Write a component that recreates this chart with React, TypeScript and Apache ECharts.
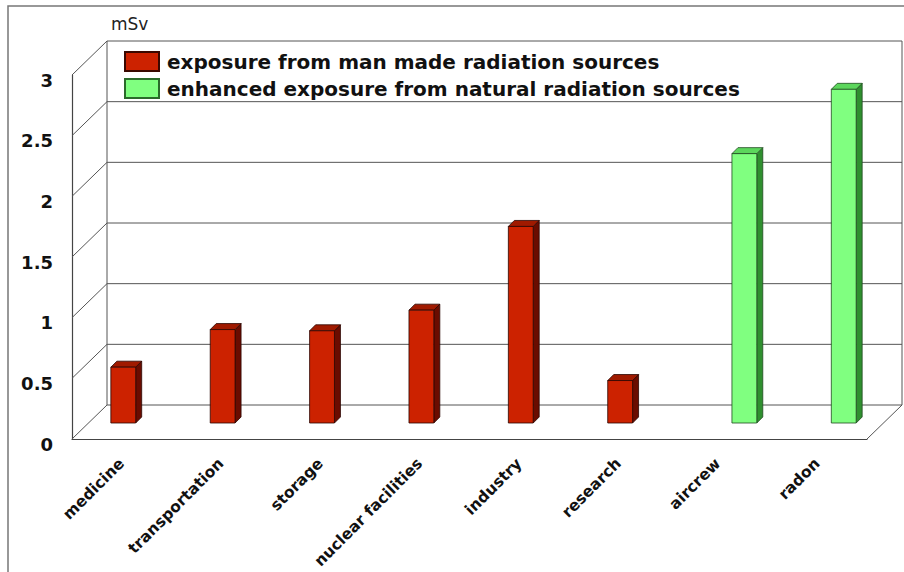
import React, { useEffect, useRef } from "react";
import * as echarts from "echarts";

const categories = [
  "medicine",
  "transportation",
  "storage",
  "nuclear facilities",
  "industry",
  "research",
  "aircrew",
  "radon",
];
const manMade: (number | null)[] = [0.46, 0.77, 0.76, 0.93, 1.62, 0.35, null, null];
const natural: (number | null)[] = [null, null, null, null, null, null, 2.22, 2.75];
const yTicks = [0, 0.5, 1, 1.5, 2, 2.5, 3];
const seriesNames = [
  "exposure from man made radiation sources",
  "enhanced exposure from natural radiation sources",
];
const unitLabel = "mSv";

// 3D look (pixel offsets)
const WALL_DX = 35;
const WALL_DY = 34;
const BAR_DX = 14;
const BAR_DY = 16;
const BAR_DEPTH = 6;

const FONT = "'DejaVu Sans', 'Liberation Sans', Arial, sans-serif";

function barRenderer(offsetFrac: number, front: string, top: string, side: string, edge: string) {
  return (params: any, api: any) => {
    const idx = api.value(0);
    const v = api.value(1);
    if (v == null || isNaN(v)) return null;
    const pTop = api.coord([idx, v]);
    const pBase = api.coord([idx, 0]);
    const band = api.size([1, 0])[0];
    const w = band * 0.25;
    const cx = pTop[0] + offsetFrac * band + BAR_DX;
    const yT = pTop[1] - BAR_DY;
    const yB = pBase[1] - BAR_DY;
    const xl = cx - w / 2;
    const xr = cx + w / 2;
    const d = BAR_DEPTH;
    const lineStyle = { stroke: edge, lineWidth: 0.8 };
    return {
      type: "group",
      children: [
        {
          type: "polygon",
          shape: { points: [[xr, yB], [xr, yT], [xr + d, yT - d], [xr + d, yB - d]] },
          style: { fill: side, ...lineStyle },
        },
        {
          type: "polygon",
          shape: { points: [[xl, yT], [xr, yT], [xr + d, yT - d], [xl + d, yT - d]] },
          style: { fill: top, ...lineStyle },
        },
        {
          type: "rect",
          shape: { x: xl, y: yT, width: w, height: yB - yT },
          style: { fill: front, ...lineStyle },
        },
      ],
    };
  };
}

export default function App() {
  const ref = useRef<HTMLDivElement>(null);

  useEffect(() => {
    document.body.style.margin = "0";
    if (!ref.current) return;
    const chart = echarts.init(ref.current, null, { renderer: "svg" });
    const yMin = yTicks[0];
    const yMax = yTicks[yTicks.length - 1];

    const wallColor = "#555";

    const option: any = {
      animation: false,
      backgroundColor: "#fff",
      title: {
        text: unitLabel,
        left: 106,
        top: 10,
        textStyle: { fontFamily: FONT, fontSize: 17, fontWeight: "normal", color: "#222" },
      },
      legend: {
        orient: "vertical",
        left: 119,
        top: 46,
        itemWidth: 34,
        itemHeight: 19,
        itemGap: 6,
        icon: "rect",
        data: seriesNames,
        selectedMode: false,
        textStyle: {
          fontFamily: FONT,
          fontSize: 20,
          fontWeight: "bold",
          color: "#111",
          padding: [0, 0, 0, 3],
        },
      },
      graphic: [
        {
          type: "rect",
          shape: { x: 8, y: 6, width: 1200, height: 1000 },
          style: { fill: "none", stroke: "#777", lineWidth: 1.5 },
          silent: true,
          z: -10,
        },
      ],
      grid: { left: 72, top: 75, width: 795, height: 364 },
      xAxis: {
        type: "category",
        data: categories,
        boundaryGap: true,
        axisLine: { show: true, lineStyle: { color: "#444", width: 1.2 } },
        axisTick: { show: false },
        splitLine: { show: false },
        axisLabel: {
          rotate: 45,
          interval: 0,
          margin: 22,
          fontFamily: FONT,
          fontSize: 15.5,
          fontWeight: "bold",
          color: "#111",
        },
      },
      yAxis: {
        type: "value",
        min: yMin,
        max: yMax,
        interval: 0.5,
        axisLine: { show: true, lineStyle: { color: "#444", width: 1.2 } },
        axisTick: { show: false },
        splitLine: { show: false },
        axisLabel: {
          margin: 19,
          fontFamily: FONT,
          fontSize: 18,
          fontWeight: "bold",
          color: "#111",
          verticalAlign: "top",
          lineHeight: 10,
        },
      },
      series: [
        {
          type: "custom",
          name: "walls",
          silent: true,
          z: 1,
          data: yTicks.map((v) => [0, v]),
          renderItem: (params: any, api: any) => {
            const v = api.value(1);
            const cs = params.coordSys;
            const x0 = cs.x;
            const x1 = cs.x + cs.width;
            const y = api.coord([0, v])[1];
            const yBase = api.coord([0, yMin])[1];
            const ls = { stroke: wallColor, lineWidth: 1 };
            const children: any[] = [
              { type: "line", shape: { x1: x0, y1: y, x2: x0 + WALL_DX, y2: y - WALL_DY }, style: ls },
              {
                type: "line",
                shape: { x1: x0 + WALL_DX, y1: y - WALL_DY, x2: x1 + WALL_DX, y2: y - WALL_DY },
                style: ls,
              },
            ];
            if (v === yMin) {
              children.push({
                type: "line",
                shape: { x1: x1, y1: y, x2: x1 + WALL_DX, y2: y - WALL_DY },
                style: ls,
              });
            }
            if (v === yMax) {
              children.push({
                type: "line",
                shape: { x1: x0 + WALL_DX, y1: y - WALL_DY, x2: x0 + WALL_DX, y2: yBase - WALL_DY },
                style: ls,
              });
              children.push({
                type: "line",
                shape: { x1: x1 + WALL_DX, y1: y - WALL_DY, x2: x1 + WALL_DX, y2: yBase - WALL_DY },
                style: ls,
              });
            }
            return { type: "group", children };
          },
        },
        {
          type: "custom",
          name: seriesNames[0],
          z: 5,
          itemStyle: { color: "#cc2200", borderColor: "#3a0800", borderWidth: 1 },
          data: manMade.map((v, i) => (v == null ? null : [i, v])).filter((d) => d !== null),
          renderItem: barRenderer(-0.125, "#cc2200", "#a01a00", "#6a0c00", "#2a0500"),
        },
        {
          type: "custom",
          name: seriesNames[1],
          z: 5,
          itemStyle: { color: "#80ff80", borderColor: "#2a6a2a", borderWidth: 1 },
          data: natural.map((v, i) => (v == null ? null : [i, v])).filter((d) => d !== null),
          renderItem: barRenderer(0.125, "#80ff80", "#5cd65c", "#2f8f2f", "#1f4a1f"),
        },
      ],
    };

    chart.setOption(option);
    return () => chart.dispose();
  }, []);

  return (
    <div
      ref={ref}
      style={{ width: 904, height: 572, position: "absolute", left: 0, top: 0 }}
    />
  );
}
